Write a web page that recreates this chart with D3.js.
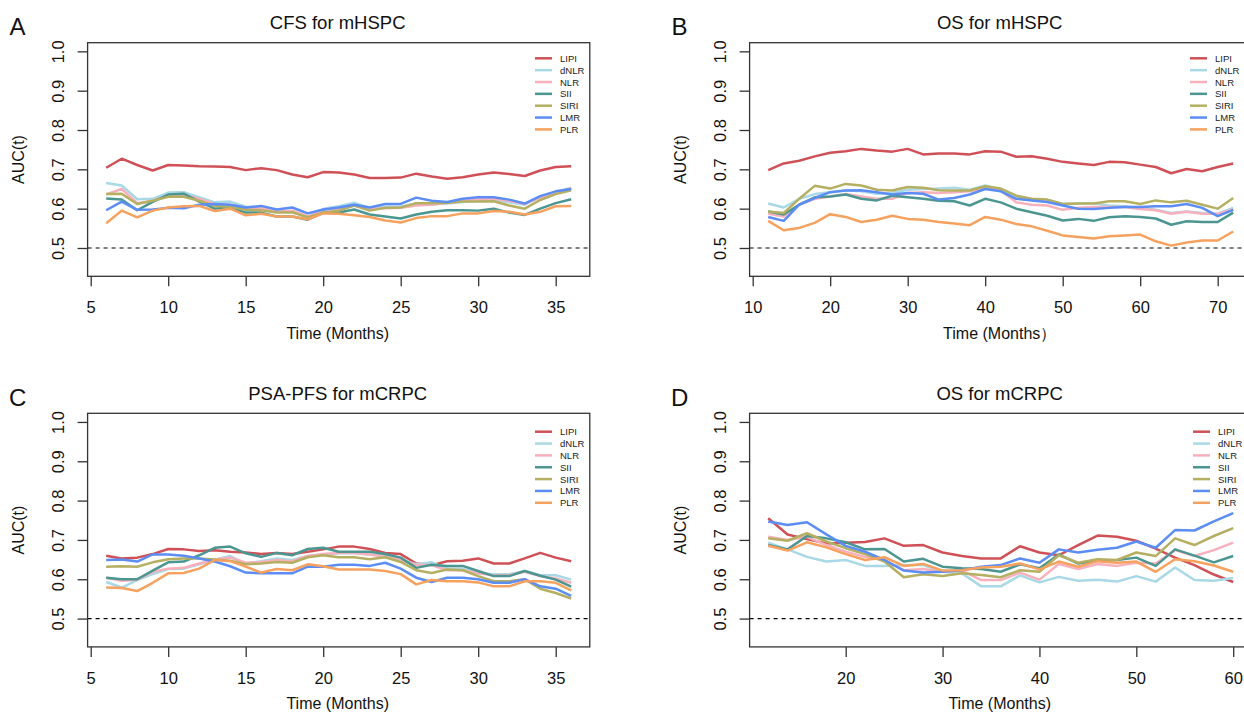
<!DOCTYPE html>
<html><head><meta charset="utf-8">
<script src="https://cdn.jsdelivr.net/npm/d3@7"></script>
<style>
html,body{margin:0;padding:0;background:#fff;}
svg{display:block;font-family:"Liberation Sans",Arial,Helvetica,sans-serif;}
</style></head>
<body>
<svg id="chart" width="1244" height="714"></svg>
<script>
// ---------- data ----------
const seriesNames = ["LIPI","dNLR","NLR","SII","SIRI","LMR","PLR"];
const seriesColors = ["#CF5157","#A9D8E6","#F8B0BC","#4B9690","#B5AF62","#5B8DF4","#F6A15E"];
const yTicks = [0.5,0.6,0.7,0.8,0.9,1.0];

// Panel A: CFS for mHSPC
const timeA = [6,7,8,9,10,11,12,13,14,15,16,17,18,19,20,21,22,23,24,25,26,27,28,29,30,31,32,33,34,35,36];
const xTicksA = [5,10,15,20,25,30,35];
const lipiA = [0.704,0.727,0.711,0.697,0.711,0.710,0.708,0.707,0.706,0.698,0.703,0.698,0.687,0.680,0.693,0.692,0.687,0.678,0.678,0.679,0.689,0.682,0.676,0.680,0.687,0.692,0.688,0.683,0.697,0.706,0.708];
const dnlrA = [0.665,0.659,0.624,0.625,0.641,0.642,0.629,0.616,0.618,0.605,0.603,0.595,0.593,0.578,0.599,0.606,0.615,0.602,0.605,0.605,0.613,0.611,0.613,0.617,0.620,0.622,0.616,0.610,0.630,0.642,0.653];
const nlrA = [0.636,0.650,0.614,0.620,0.632,0.635,0.625,0.612,0.610,0.600,0.602,0.593,0.595,0.580,0.597,0.600,0.608,0.600,0.601,0.602,0.608,0.610,0.615,0.620,0.623,0.625,0.620,0.612,0.628,0.640,0.652];
const siiA = [0.626,0.623,0.596,0.617,0.636,0.638,0.618,0.600,0.604,0.590,0.590,0.580,0.580,0.572,0.590,0.590,0.598,0.585,0.580,0.575,0.585,0.592,0.596,0.596,0.595,0.600,0.590,0.584,0.600,0.614,0.624];
const siriA = [0.637,0.638,0.612,0.620,0.630,0.630,0.620,0.607,0.605,0.597,0.596,0.590,0.591,0.578,0.590,0.595,0.608,0.595,0.602,0.603,0.614,0.614,0.615,0.618,0.618,0.619,0.608,0.600,0.622,0.637,0.647];
const lmrA = [0.596,0.618,0.597,0.598,0.602,0.601,0.610,0.612,0.610,0.603,0.607,0.598,0.603,0.588,0.598,0.603,0.610,0.603,0.612,0.612,0.628,0.620,0.617,0.625,0.629,0.629,0.623,0.613,0.632,0.644,0.650];
const plrA = [0.563,0.595,0.578,0.595,0.603,0.606,0.607,0.594,0.600,0.583,0.587,0.580,0.580,0.573,0.588,0.587,0.583,0.579,0.570,0.565,0.576,0.581,0.581,0.588,0.588,0.594,0.592,0.585,0.592,0.606,0.607];

// Panel B: OS for mHSPC
const timeB = [12,14,16,18,20,22,24,26,28,30,32,34,36,38,40,42,44,46,48,50,52,54,56,58,60,62,64,66,68,70,72];
const xTicksB = [10,20,30,40,50,60,70];
const lipiB = [0.698,0.715,0.722,0.733,0.742,0.746,0.752,0.748,0.745,0.752,0.738,0.740,0.740,0.738,0.746,0.745,0.732,0.733,0.727,0.719,0.715,0.711,0.719,0.718,0.712,0.706,0.690,0.701,0.695,0.706,0.715];
const dnlrB = [0.613,0.603,0.625,0.637,0.642,0.647,0.644,0.638,0.640,0.648,0.650,0.651,0.653,0.648,0.659,0.648,0.631,0.623,0.623,0.612,0.613,0.613,0.608,0.606,0.602,0.597,0.589,0.593,0.589,0.587,0.602];
const nlrB = [0.587,0.580,0.610,0.625,0.631,0.637,0.631,0.625,0.625,0.640,0.642,0.640,0.642,0.644,0.653,0.646,0.616,0.610,0.608,0.597,0.602,0.604,0.604,0.604,0.599,0.596,0.587,0.592,0.587,0.587,0.598];
const siiB = [0.593,0.585,0.610,0.629,0.631,0.636,0.625,0.621,0.633,0.629,0.625,0.620,0.619,0.608,0.625,0.616,0.600,0.591,0.582,0.570,0.574,0.569,0.578,0.581,0.579,0.575,0.559,0.568,0.566,0.566,0.590];
const siriB = [0.593,0.589,0.625,0.658,0.651,0.663,0.659,0.648,0.646,0.655,0.653,0.647,0.646,0.646,0.657,0.651,0.633,0.625,0.623,0.612,0.613,0.613,0.619,0.619,0.612,0.621,0.616,0.620,0.610,0.600,0.627];
const lmrB = [0.579,0.569,0.610,0.627,0.642,0.646,0.647,0.642,0.636,0.640,0.638,0.623,0.627,0.636,0.650,0.644,0.625,0.621,0.617,0.608,0.600,0.599,0.602,0.604,0.604,0.606,0.606,0.612,0.602,0.581,0.597];
const plrB = [0.569,0.545,0.551,0.564,0.586,0.579,0.566,0.572,0.582,0.574,0.572,0.566,0.562,0.558,0.579,0.572,0.561,0.555,0.544,0.532,0.528,0.524,0.530,0.532,0.534,0.517,0.506,0.514,0.519,0.519,0.542];

// Panel C: PSA-PFS for mCRPC
const timeC = [6,7,8,9,10,11,12,13,14,15,16,17,18,19,20,21,22,23,24,25,26,27,28,29,30,31,32,33,34,35,36];
const xTicksC = [5,10,15,20,25,30,35];
const lipiC = [0.660,0.653,0.655,0.664,0.677,0.676,0.672,0.674,0.670,0.668,0.664,0.667,0.664,0.670,0.676,0.683,0.683,0.677,0.667,0.664,0.640,0.636,0.646,0.647,0.653,0.640,0.640,0.653,0.667,0.655,0.646];
const dnlrC = [0.593,0.579,0.598,0.613,0.626,0.627,0.638,0.650,0.659,0.640,0.646,0.653,0.649,0.659,0.663,0.666,0.666,0.663,0.659,0.649,0.638,0.643,0.627,0.627,0.616,0.613,0.613,0.621,0.610,0.610,0.599];
const nlrC = [0.604,0.596,0.599,0.619,0.627,0.629,0.640,0.650,0.655,0.642,0.644,0.649,0.646,0.659,0.664,0.667,0.667,0.663,0.657,0.649,0.636,0.636,0.623,0.623,0.615,0.610,0.610,0.619,0.608,0.602,0.591];
const siiC = [0.604,0.600,0.600,0.622,0.643,0.645,0.661,0.680,0.683,0.666,0.657,0.667,0.661,0.677,0.680,0.670,0.670,0.670,0.664,0.655,0.629,0.637,0.634,0.634,0.621,0.608,0.608,0.621,0.609,0.599,0.581];
const siriC = [0.632,0.633,0.632,0.643,0.651,0.653,0.653,0.650,0.647,0.638,0.640,0.644,0.642,0.656,0.661,0.656,0.656,0.651,0.656,0.644,0.623,0.616,0.625,0.623,0.608,0.595,0.595,0.600,0.576,0.565,0.551];
const lmrC = [0.649,0.650,0.645,0.663,0.663,0.660,0.653,0.645,0.633,0.617,0.615,0.615,0.615,0.632,0.632,0.637,0.637,0.634,0.642,0.627,0.604,0.593,0.604,0.604,0.600,0.591,0.591,0.600,0.582,0.576,0.558];
const plrC = [0.579,0.578,0.570,0.591,0.615,0.616,0.627,0.649,0.646,0.632,0.617,0.626,0.623,0.638,0.633,0.625,0.625,0.625,0.621,0.613,0.587,0.598,0.595,0.595,0.592,0.582,0.582,0.595,0.595,0.591,0.572];

// Panel D: OS for mCRPC
const timeD = [12,14,16,18,20,22,24,26,28,30,32,34,36,38,40,42,44,46,48,50,52,54,56,58,60];
const xTicksD = [20,30,40,50,60];
const lipiD = [0.755,0.714,0.702,0.691,0.693,0.695,0.704,0.685,0.687,0.668,0.659,0.653,0.653,0.684,0.668,0.661,0.687,0.711,0.708,0.698,0.678,0.655,0.636,0.612,0.593];
const dnlrD = [0.693,0.676,0.657,0.645,0.649,0.634,0.634,0.636,0.636,0.619,0.615,0.582,0.582,0.610,0.592,0.606,0.596,0.599,0.594,0.608,0.594,0.630,0.598,0.596,0.603];
const nlrD = [0.708,0.700,0.708,0.687,0.670,0.657,0.649,0.623,0.626,0.619,0.622,0.598,0.598,0.617,0.599,0.639,0.626,0.639,0.634,0.642,0.640,0.674,0.659,0.674,0.693];
const siiD = [0.687,0.676,0.710,0.704,0.694,0.676,0.677,0.645,0.652,0.632,0.628,0.626,0.619,0.638,0.628,0.663,0.640,0.647,0.649,0.655,0.634,0.676,0.660,0.643,0.659];
const siriD = [0.704,0.698,0.717,0.696,0.679,0.664,0.645,0.605,0.613,0.608,0.615,0.611,0.605,0.623,0.619,0.661,0.642,0.651,0.649,0.668,0.659,0.704,0.687,0.710,0.730];
const lmrD = [0.747,0.738,0.745,0.714,0.685,0.670,0.649,0.622,0.617,0.619,0.623,0.632,0.636,0.653,0.642,0.676,0.668,0.675,0.680,0.696,0.680,0.725,0.724,0.747,0.768];
const plrD = [0.685,0.673,0.694,0.681,0.664,0.649,0.656,0.634,0.639,0.622,0.623,0.630,0.632,0.640,0.625,0.645,0.632,0.646,0.642,0.645,0.619,0.651,0.646,0.635,0.619];

// ---------- layout ----------
const panels = [
  {letter:"A", title:"CFS for mHSPC", xlab:"Time (Months)", time:timeA, xTicks:xTicksA,
   series:[lipiA,dnlrA,nlrA,siiA,siriA,lmrA,plrA], left:87.6, top:42.7, legX:560, legY:58.3},
  {letter:"B", title:"OS for mHSPC", xlab:"Time (Months\uFF09", time:timeB, xTicks:xTicksB,
   series:[lipiB,dnlrB,nlrB,siiB,siriB,lmrB,plrB], left:749.6, top:42.7, legX:1215, legY:58.3},
  {letter:"C", title:"PSA-PFS for mCRPC", xlab:"Time (Months)", time:timeC, xTicks:xTicksC,
   series:[lipiC,dnlrC,nlrC,siiC,siriC,lmrC,plrC], left:87.6, top:413.3, legX:560, legY:431.7},
  {letter:"D", title:"OS for mCRPC", xlab:"Time (Months)", time:timeD, xTicks:xTicksD,
   series:[lipiD,dnlrD,nlrD,siiD,siriD,lmrD,plrD], left:749.6, top:413.3, legX:1218, legY:431.7}
];
const boxW = 502.2, boxH = 233.6;
const svg = d3.select("#chart");
const axisColor = "#333";
const FONT = '"Liberation Sans",Arial,sans-serif';

panels.forEach(p => {
  const g = svg.append("g");
  const t0 = d3.min(p.time), t1 = d3.max(p.time), tr = t1 - t0;
  const x = d3.scaleLinear().domain([t0 - 0.04*tr, t1 + 0.04*tr]).range([p.left, p.left + boxW]);
  const ylo = 0.45, yhi = 1.0, yr = yhi - ylo;
  const y = d3.scaleLinear().domain([ylo - 0.04*yr, yhi + 0.04*yr]).range([p.top + boxH, p.top]);
  const bottom = p.top + boxH;

  const line = d3.line().x((d,i) => x(p.time[i])).y(d => y(d));
  p.series.forEach((vals, k) => {
    g.append("path").datum(vals)
      .attr("d", line)
      .attr("fill","none")
      .attr("stroke", seriesColors[k])
      .attr("stroke-width", 2.5)
      .attr("stroke-linejoin","round");
  });

  g.append("line")
    .attr("x1", p.left).attr("x2", p.left + boxW)
    .attr("y1", y(0.5)).attr("y2", y(0.5))
    .attr("stroke","#000").attr("stroke-width",1.1)
    .attr("stroke-dasharray","4,4");

  g.append("rect").attr("x", p.left).attr("y", p.top)
    .attr("width", boxW).attr("height", boxH)
    .attr("fill","none").attr("stroke", axisColor).attr("stroke-width",1.3);

  const ya = g.append("g").attr("transform", `translate(${p.left},0)`)
    .call(d3.axisLeft(y).tickValues(yTicks).tickSize(10).tickSizeOuter(0).tickFormat(d3.format(".1f")));
  ya.select(".domain").remove();
  ya.selectAll(".tick line").attr("stroke", axisColor).attr("stroke-width",1.3);
  ya.selectAll(".tick text")
    .attr("x", null).attr("dy", null)
    .attr("transform", "translate(-30,0) rotate(-90)")
    .attr("text-anchor","middle")
    .attr("dominant-baseline","central")
    .attr("font-size", 16.5).attr("fill","#111")
    .style("font-family", FONT);

  const xa = g.append("g").attr("transform", `translate(0,${bottom})`)
    .call(d3.axisBottom(x).tickValues(p.xTicks).tickSize(10).tickSizeOuter(0).tickFormat(d3.format("d")));
  xa.select(".domain").remove();
  xa.selectAll(".tick line").attr("stroke", axisColor).attr("stroke-width",1.3);
  xa.selectAll(".tick text")
    .attr("y", 31).attr("dy", null)
    .attr("dominant-baseline","central")
    .attr("font-size", 16.5).attr("fill","#111")
    .style("font-family", FONT);

  g.append("text").attr("x", p.left + boxW/2 - 1).attr("y", bottom + 57)
    .attr("text-anchor","middle").attr("dominant-baseline","central")
    .attr("font-size", 16).attr("fill","#111").text(p.xlab);
  g.append("text")
    .attr("transform", `translate(${p.left - 69.6},${p.top + boxH/2}) rotate(-90)`)
    .attr("text-anchor","middle").attr("dominant-baseline","central")
    .attr("font-size", 16).attr("fill","#111").text("AUC(t)");

  g.append("text").attr("x", p.left + boxW/2 - 1).attr("y", p.top - 20)
    .attr("text-anchor","middle").attr("dominant-baseline","central")
    .attr("font-size", 18.5).attr("fill","#111").text(p.title);

  g.append("text").attr("x", p.left - 70).attr("y", p.top - 16)
    .attr("text-anchor","middle").attr("dominant-baseline","central")
    .attr("font-size", 24).attr("fill","#111").text(p.letter);

  const leg = g.append("g");
  seriesNames.forEach((nm, k) => {
    const yy = p.legY + k*11.85;
    leg.append("line").attr("x1", p.legX - 25).attr("x2", p.legX - 8)
      .attr("y1", yy).attr("y2", yy)
      .attr("stroke", seriesColors[k]).attr("stroke-width", 2.5);
    leg.append("text").attr("x", p.legX).attr("y", yy)
      .attr("dominant-baseline","central")
      .attr("font-size", 9.5).attr("fill","#222").text(nm);
  });
});
</script>
</body></html>
